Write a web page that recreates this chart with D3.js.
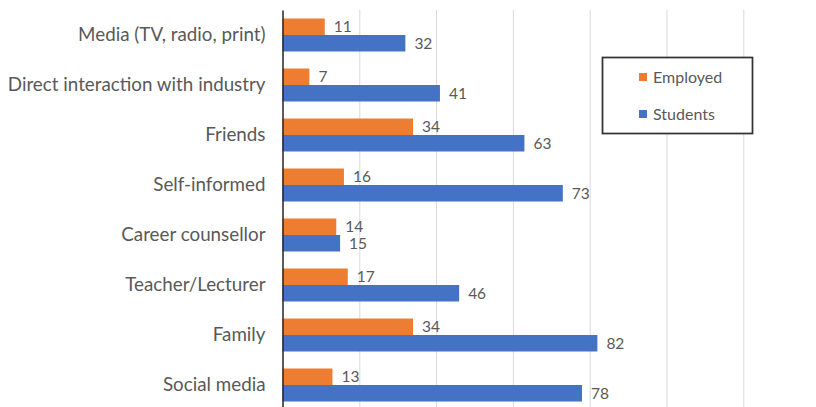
<!DOCTYPE html>
<html>
<head>
<meta charset="utf-8">
<script src="https://cdn.jsdelivr.net/npm/d3@7"></script>
<style>
  html, body { margin: 0; padding: 0; background: #ffffff; }
  svg { display: block; }
  text { font-family: Lato, "Open Sans", sans-serif; fill: #595959; }
</style>
</head>
<body>
<svg id="chart" width="816" height="407"></svg>
<script>
// Sources of career information, by group
const categories = [
  "Media (TV, radio, print)",
  "Direct interaction with industry",
  "Friends",
  "Self-informed",
  "Career counsellor",
  "Teacher/Lecturer",
  "Family",
  "Social media"
];
const seriesNames = ["Employed", "Students"];
const employed = [11, 7, 34, 16, 14, 17, 34, 13];
const students = [32, 41, 63, 73, 15, 46, 82, 78];
const gridTicks = [20, 40, 60, 80, 100, 120];
const colors = ["#ED7D31", "#4472C4"];

const rows = categories.map((c, i) => ({
  category: c,
  values: [
    { key: seriesNames[0], value: employed[i] },
    { key: seriesNames[1], value: students[i] }
  ]
}));

const svg = d3.select("#chart");
const plot = { left: 282.5, right: 743.3, top: 10, bottom: 410 };

const x = d3.scaleLinear().domain([0, 120]).range([plot.left, plot.right]);
const y = d3.scaleBand()
  .domain(categories)
  .range([plot.top, plot.bottom])
  .paddingInner(0.34)
  .paddingOuter(0.17);
const ySub = d3.scaleBand().domain(seriesNames).range([0, y.bandwidth()]);
const color = d3.scaleOrdinal().domain(seriesNames).range(colors);

// vertical gridlines
svg.append("g")
  .attr("transform", `translate(0,${plot.top})`)
  .call(d3.axisBottom(x).tickValues(gridTicks).tickSize(plot.bottom - plot.top).tickFormat(""))
  .call(g => g.select(".domain").remove())
  .call(g => g.selectAll(".tick line").attr("stroke", "#d9d9d9").attr("stroke-width", 1));

// bars
const groups = svg.append("g").selectAll("g")
  .data(rows)
  .join("g")
  .attr("transform", d => `translate(0,${y(d.category)})`);

groups.selectAll("rect")
  .data(d => d.values)
  .join("rect")
  .attr("x", x(0))
  .attr("y", d => ySub(d.key))
  .attr("width", d => x(d.value) - x(0))
  .attr("height", ySub.bandwidth())
  .attr("fill", d => color(d.key));

// value labels
groups.selectAll("text.value")
  .data(d => d.values)
  .join("text")
  .attr("class", "value")
  .attr("x", d => x(d.value) + 9)
  .attr("y", d => ySub(d.key) + ySub.bandwidth() / 2)
  .attr("dy", "0.35em")
  .attr("font-size", 15.5)
  .text(d => d.value);

// category axis
svg.append("g")
  .attr("transform", `translate(${plot.left},0)`)
  .call(d3.axisLeft(y).tickSize(0).tickSizeOuter(0).tickPadding(17))
  .call(g => g.select(".domain").attr("stroke", "#262626").attr("stroke-width", 1.5))
  .call(g => g.selectAll(".tick text")
    .attr("font-size", 18.8)
    .attr("font-family", "Lato, 'Open Sans', sans-serif")
    .attr("fill", "#595959"));

// legend
const legend = svg.append("g").attr("transform", "translate(602.5,57.5)");
legend.append("rect")
  .attr("width", 150).attr("height", 76)
  .attr("fill", "#ffffff")
  .attr("stroke", "#333333")
  .attr("stroke-width", 1.75);
const items = legend.selectAll("g.item")
  .data(seriesNames)
  .join("g")
  .attr("class", "item")
  .attr("transform", (d, i) => `translate(36.5,${19.5 + i * 37})`);
items.append("rect")
  .attr("width", 8).attr("height", 8)
  .attr("y", -4)
  .attr("fill", d => color(d));
items.append("text")
  .attr("x", 14)
  .attr("dy", "0.35em")
  .attr("font-size", 16)
  .text(d => d);
</script>
</body>
</html>
